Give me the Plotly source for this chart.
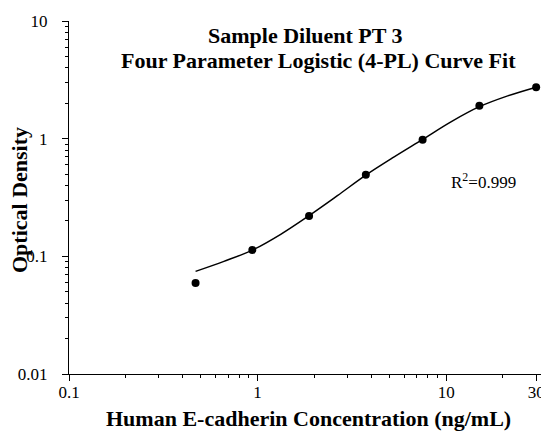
import plotly.graph_objects as go
import math

# Data
conc = [0.469, 0.938, 1.875, 3.75, 7.5, 15, 30]
od = [0.0593, 0.113, 0.220, 0.493, 0.977, 1.90, 2.74]

# Fitted-curve points
curve_x = [0.469, 0.663, 0.938, 1.326, 1.875, 2.65, 3.75, 5.30, 7.5, 10.6, 15, 21.2, 30]
curve_y = [0.0745, 0.0906, 0.113, 0.154, 0.222, 0.328, 0.490, 0.700, 0.985, 1.39, 1.87, 2.31, 2.74]

x_ticks = [0.1, 1, 10, 30]
x_ticktext = ["0.1", "1", "10", "30"]
y_ticks = [0.01, 0.1, 1, 10]
y_ticktext = ["0.01", "0.1", "1", "10"]

x_minor = [m * d for d in (0.1, 1) for m in range(2, 10)] + [20]
y_minor = [m * d for d in (0.01, 0.1, 1) for m in range(2, 10)]

FONT = "Liberation Serif"

fig = go.Figure()
fig.add_trace(go.Scatter(x=curve_x, y=curve_y, mode="lines",
                         line=dict(color="black", width=1.5, shape="spline", smoothing=1),
                         showlegend=False, hoverinfo="skip", cliponaxis=False))
fig.add_trace(go.Scatter(x=conc, y=od, mode="markers",
                         marker=dict(color="black", size=8),
                         showlegend=False, cliponaxis=False))

# The page body adds an 8px offset, so the figure is 8px smaller each way
fig.update_layout(
    width=541, height=424,
    margin=dict(l=61, r=0, t=13, b=58),
    plot_bgcolor="white", paper_bgcolor="white",
    font=dict(family=FONT, color="black"),
    xaxis=dict(type="log", range=[-1, math.log10(35.1)], automargin=False,
               tickmode="array", tickvals=x_ticks, ticktext=x_ticktext,
               ticks="outside", ticklen=6, tickwidth=1, tickcolor="black",
               showgrid=False, zeroline=False,
               showline=True, linecolor="black", linewidth=1,
               ticklabelstandoff=-3,
               tickfont=dict(family=FONT, size=17, color="black"),
               minor=dict(tickmode="array", tickvals=x_minor, ticks="outside",
                          ticklen=3, tickcolor="black", showgrid=False)),
    yaxis=dict(type="log", range=[-2, 1], automargin=False,
               tickmode="array", tickvals=y_ticks, ticktext=y_ticktext,
               ticks="outside", ticklen=6, tickwidth=1, tickcolor="black",
               showgrid=False, zeroline=False,
               showline=True, linecolor="black", linewidth=1,
               ticklabelstandoff=11,
               tickfont=dict(family=FONT, size=17, color="black"),
               minor=dict(tickmode="array", tickvals=y_minor, ticks="outside",
                          ticklen=3, tickcolor="black", showgrid=False)),
    annotations=[
        dict(text="<b>Sample Diluent PT 3</b>", xref="paper", yref="paper",
             x=0.4917, y=0.960, showarrow=False, xanchor="center", yanchor="middle",
             font=dict(family=FONT, size=22, color="black")),
        dict(text="<b>Four Parameter Logistic (4-PL) Curve Fit</b>", xref="paper", yref="paper",
             x=0.520, y=0.887, showarrow=False, xanchor="center", yanchor="middle",
             font=dict(family=FONT, size=22, color="black")),
        dict(text="R<sup>2</sup>=0.999", xref="paper", yref="paper",
             x=0.8625, y=0.547, showarrow=False, xanchor="center", yanchor="middle",
             font=dict(family=FONT, size=17, color="black")),
        dict(text="<b>Human E-cadherin Concentration (ng/mL)</b>", xref="paper", yref="paper",
             x=0.498, y=-0.1265, showarrow=False, xanchor="center", yanchor="middle",
             font=dict(family=FONT, size=22, color="black")),
        dict(text="<b>Optical Density</b>", xref="paper", yref="paper", textangle=-90,
             x=-0.102, y=0.493, showarrow=False, xanchor="center", yanchor="middle",
             font=dict(family=FONT, size=22, color="black")),
    ],
)

fig.write_html("out.html")
